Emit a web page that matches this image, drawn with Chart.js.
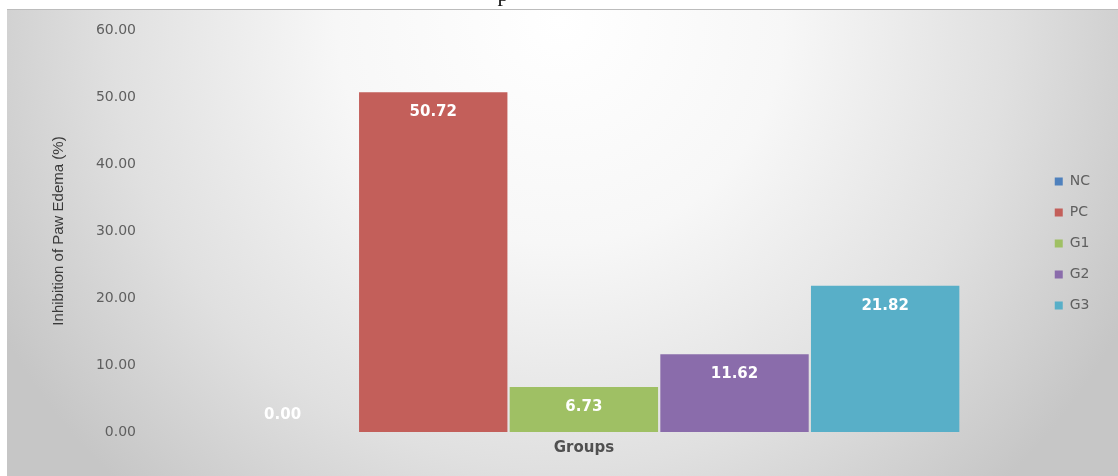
<!DOCTYPE html>
<html>
<head>
<meta charset="utf-8">
<script src="https://cdn.jsdelivr.net/npm/chart.js@4.4.1/dist/chart.umd.min.js"></script>
<style>
  html, body { margin: 0; padding: 0; background: #ffffff; }
  #wrap { width: 1118px; height: 476px; }
</style>
</head>
<body>
<div id="wrap"><canvas id="pawChart" width="1118" height="476"></canvas></div>
<script>
// inhibition of paw edema per group (%)
const groups = ['NC', 'PC', 'G1', 'G2', 'G3'];
const inhibition = [0.00, 50.72, 6.73, 11.62, 21.82];
const groupColors = ['#4f81bd', '#c35f5a', '#9fc064', '#8a6cab', '#58afc8'];
const yMin = 0, yMax = 60, yStep = 10;

const greyText = '#5f5f5f';

// soft grey frame behind the plot, light in the upper middle
const frameBackground = {
  id: 'frameBackground',
  beforeDraw(chart) {
    const ctx = chart.ctx;
    const w = chart.width, h = chart.height;
    ctx.save();
    ctx.fillStyle = '#ffffff';
    ctx.fillRect(0, 0, w, h);
    const g = ctx.createRadialGradient(560, 20, 0, 560, 20, 640);
    g.addColorStop(0, '#ffffff');
    g.addColorStop(0.35, '#f7f7f7');
    g.addColorStop(0.7, '#e0e0e0');
    g.addColorStop(1, '#c6c6c6');
    ctx.fillStyle = g;
    ctx.fillRect(7, 9, w - 7, h - 9);
    ctx.fillStyle = '#bcbcbc';
    ctx.fillRect(7, 9, w - 7, 1);
    // tail of the caption line above the frame
    ctx.fillStyle = '#111111';
    ctx.font = '22px "Liberation Serif"';
    ctx.textAlign = 'center';
    ctx.textBaseline = 'alphabetic';
    ctx.fillText('p', 503, 1);
    ctx.restore();
  }
};

// value written inside the top of each bar
const valueLabels = {
  id: 'valueLabels',
  afterDatasetsDraw(chart) {
    const ctx = chart.ctx;
    ctx.save();
    ctx.font = 'bold 15px "DejaVu Sans"';
    ctx.fillStyle = '#ffffff';
    ctx.textAlign = 'center';
    ctx.textBaseline = 'middle';
    chart.data.datasets.forEach((ds, i) => {
      const bar = chart.getDatasetMeta(i).data[0];
      const h = bar.base - bar.y;
      const y = h > 30 ? bar.y + 20 : bar.base - 17;
      ctx.fillText(ds.data[0].toFixed(2), bar.x, y);
    });
    ctx.restore();
  }
};

const datasets = groups.map((name, i) => ({
  label: name,
  data: [inhibition[i]],
  backgroundColor: groupColors[i],
  borderWidth: 0,
  categoryPercentage: 0.868,
  barPercentage: 0.985
}));

new Chart(document.getElementById('pawChart'), {
  type: 'bar',
  data: {
    labels: [''],
    datasets: datasets
  },
  options: {
    responsive: false,
    animation: false,
    devicePixelRatio: 1,
    layout: {
      padding: { left: 50, top: 30, right: 18, bottom: 19 }
    },
    plugins: {
      tooltip: { enabled: false },
      legend: {
        position: 'right',
        labels: {
          boxWidth: 8,
          boxHeight: 8,
          padding: 17,
          color: greyText,
          font: { family: '"DejaVu Sans"', size: 14 }
        }
      }
    },
    scales: {
      x: {
        grid: { display: false, drawTicks: false },
        border: { display: false },
        ticks: { display: false },
        title: {
          display: true,
          text: 'Groups',
          color: '#505050',
          font: { family: '"DejaVu Sans"', size: 15, weight: 'bold' },
          padding: { top: 7, bottom: 0 }
        }
      },
      y: {
        min: yMin,
        max: yMax,
        grid: { display: false, drawTicks: false },
        border: { display: false },
        ticks: {
          stepSize: yStep,
          color: greyText,
          padding: 14,
          font: { family: '"DejaVu Sans"', size: 14 },
          callback: v => v.toFixed(2)
        },
        title: {
          display: true,
          text: 'Inhibition of Paw Edema (%)',
          color: '#3a3a3a',
          font: { family: '"Liberation Sans Narrow", "Liberation Sans"', size: 15 },
          padding: { top: 0, bottom: 10 }
        },
        afterFit(scale) {
          scale.width = 100;
        }
      },
      // empty strip between the plot and the legend
      gap: {
        type: 'linear',
        position: 'right',
        grid: { display: false, drawTicks: false },
        border: { display: false },
        ticks: { display: false },
        afterFit(scale) {
          scale.width = 20;
        }
      }
    }
  },
  plugins: [frameBackground, valueLabels]
});
</script>
</body>
</html>
